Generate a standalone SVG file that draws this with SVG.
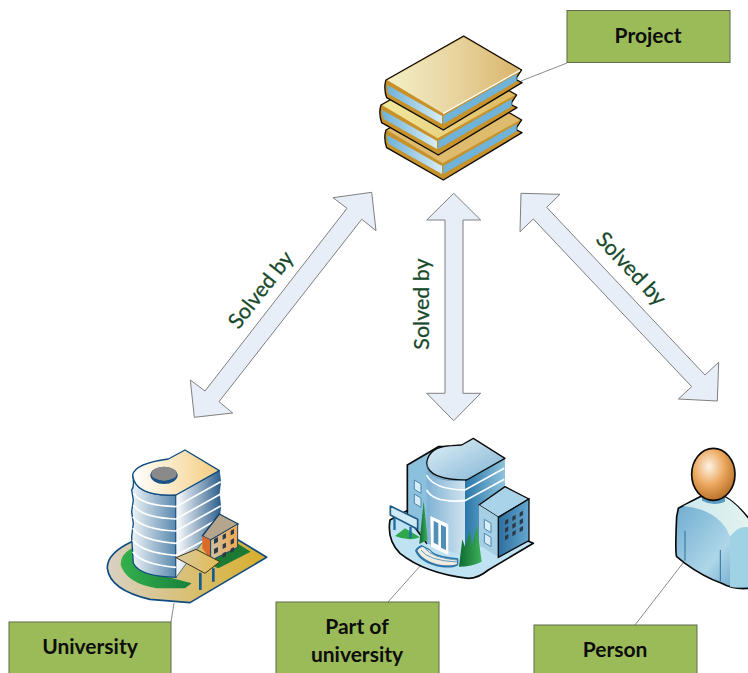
<svg xmlns="http://www.w3.org/2000/svg" width="748" height="673" viewBox="0 0 748 673">
<style>
.box{fill:#9bbb59;stroke:#5f6b4a;stroke-width:1}
.lbl{font-family:"Lato","Carlito","Open Sans",sans-serif;font-weight:700;font-size:21px;fill:#0d0d0d;text-anchor:middle}
.rel{font-family:"Lato","Carlito","Open Sans",sans-serif;font-size:21.5px;fill:#17492b;stroke:#17492b;stroke-width:.25;text-anchor:middle}
.arr{fill:#e8eef7;stroke:#7f7f7f;stroke-width:1}
.ln{fill:none;stroke:#8c8c8c;stroke-width:1}
.w{fill:none;stroke:#fff;stroke-width:5}
.k{stroke:#0a0a0a;stroke-width:4;stroke-linejoin:round}
.win{fill:#2c3a46}
</style>
<defs>
<linearGradient id="cov" x1="0" x2="1" y1="0" y2="0"><stop offset="0" stop-color="#f3efc8"/><stop offset=".5" stop-color="#e8d5a0"/><stop offset="1" stop-color="#d9b46c"/></linearGradient>
<linearGradient id="cov2" x1="0" x2="1" y1="0" y2="0"><stop offset="0" stop-color="#f2eaa0"/><stop offset="1" stop-color="#dfb860"/></linearGradient>
<linearGradient id="pg" x1="0" x2="1" y1="0" y2="0"><stop offset="0" stop-color="#6fb2d8"/><stop offset="1" stop-color="#d6ecf5"/></linearGradient>
<linearGradient id="tl" x1="0" x2="1" y1="0" y2="0"><stop offset="0" stop-color="#eef4f7"/><stop offset="1" stop-color="#5a88ae"/></linearGradient>
<linearGradient id="tr" x1="0" x2="1" y1="0" y2="0"><stop offset="0" stop-color="#ffffff"/><stop offset="1" stop-color="#2f608e"/></linearGradient>
<linearGradient id="tt" x1="0" x2="1" y1="0" y2="0"><stop offset="0" stop-color="#ffffff"/><stop offset="1" stop-color="#f5cd7e"/></linearGradient>
<linearGradient id="bs" x1="0" x2="1" y1="0" y2="0"><stop offset="0" stop-color="#d9d2c4"/><stop offset="1" stop-color="#d8ae28"/></linearGradient>
<linearGradient id="gr" x1="0" x2="1" y1="0" y2="0"><stop offset="0" stop-color="#35b04c"/><stop offset="1" stop-color="#17803c"/></linearGradient>
<linearGradient id="fr" x1="0" x2="1" y1="0" y2="0"><stop offset="0" stop-color="#cdbfa5"/><stop offset="1" stop-color="#f3a94e"/></linearGradient>
<linearGradient id="cn" x1="0" x2="1" y1="0" y2="0"><stop offset="0" stop-color="#d8c9a0"/><stop offset="1" stop-color="#e3bb50"/></linearGradient>
<linearGradient id="c1" x1="0" x2="1" y1="0" y2="0"><stop offset="0" stop-color="#7fb2d4"/><stop offset="1" stop-color="#cfe3ef"/></linearGradient>
<linearGradient id="c2" x1="0" x2="1" y1="0" y2="0"><stop offset="0" stop-color="#2a77a8"/><stop offset="1" stop-color="#8fc3de"/></linearGradient>
<linearGradient id="c3" x1="0" x2="1" y1="0" y2="1"><stop offset="0" stop-color="#e2f1f7"/><stop offset="1" stop-color="#7fb3d4"/></linearGradient>
<linearGradient id="c4" x1="0" x2="1" y1="0" y2="0"><stop offset="0" stop-color="#2c6f9f"/><stop offset="1" stop-color="#65a7cf"/></linearGradient>
<linearGradient id="tree" x1="0" x2="1" y1="0" y2="0"><stop offset="0" stop-color="#0c6a32"/><stop offset="1" stop-color="#3fb05a"/></linearGradient>
<radialGradient id="hd" cx=".4" cy=".35" r=".7"><stop offset="0" stop-color="#fdf3e6"/><stop offset=".5" stop-color="#eca961"/><stop offset="1" stop-color="#b56a22"/></radialGradient>
<linearGradient id="bd" x1="0" x2="1" y1="0" y2="1"><stop offset="0" stop-color="#6aa9cf"/><stop offset=".6" stop-color="#aed6e8"/><stop offset="1" stop-color="#5b9cc5"/></linearGradient>
<linearGradient id="sh" x1="0" x2="1" y1="0" y2="0"><stop offset="0" stop-color="#cfe8ee"/><stop offset="1" stop-color="#e2f2ef"/></linearGradient>
<g id="bk">
<path class="k" fill="#c8922a" d="M281,108L455,210L440,232L440,240L456,248L220,390L50,293Q40,265 48,240Z"/>
<path fill="url(#pg)" d="M52,255L216,348L216,372L56,282Q50,266 52,255Z"/>
<path fill="#6fb3d8" d="M220,348L440,222L440,244L220,372Z"/>
</g>
<path id="cv" d="M281,112L450,210L218,340L52,241Z"/>
</defs>

<g id="connectors">
<line class="ln" x1="521" y1="81" x2="567" y2="63"/>
<line class="ln" x1="174" y1="603" x2="171" y2="622"/>
<line class="ln" x1="421" y1="565" x2="388" y2="602"/>
<line class="ln" x1="683" y1="563" x2="635" y2="625"/>
<polygon class="arr" points="371.7,192.3 376,230.7 361.7,219.3 219,401.7 232.7,413 194.3,417.3 190.3,380 205,391 347,208.3 333,197.7"/>
<polygon class="arr" points="453.7,193.3 480.7,220 463,220 463,393.3 480.7,393.3 453.7,420.7 426.7,393.3 445,393.3 445,220 426.7,220"/>
<polygon class="arr" points="521,193.3 560,194.3 546.7,207.3 705,375 718.7,362.3 717.3,401 678.3,399 691.7,386.7 533.3,219 520,231.7"/>
<text class="rel" transform="translate(261,290) rotate(-52)" x="0" y="7">Solved by</text>
<text class="rel" transform="translate(421.500,304) rotate(-90)" x="0" y="7">Solved by</text>
<text class="rel" transform="translate(631,269) rotate(47)" x="0" y="7">Solved by</text>
</g>

<g id="project-icon" transform="translate(370,0) scale(.3333)">
<use href="#bk" transform="translate(0,150)"/>
<use href="#cv" transform="translate(0,150)" fill="#dfbb6e"/>
<use href="#bk" transform="translate(-15,75)"/>
<use href="#cv" transform="translate(-15,75)" fill="url(#cov2)"/>
<use href="#bk"/>
<use href="#cv" fill="url(#cov)"/>
<path fill="none" stroke="#fff" stroke-width="4" d="M450,211L219,341"/>
<path fill="none" stroke="#c8922a" stroke-width="5" d="M50,243L218,344"/>
</g>

<g id="project">
<rect class="box" x="567" y="10.5" width="163" height="52"/>
<text class="lbl" x="648" y="43">Project</text>
</g>

<g id="university-icon" transform="translate(90,440) scale(.3333)">
<path fill="url(#bs)" stroke="#0f4c81" stroke-width="5" stroke-linejoin="round" d="M125,305Q50,340 52,385Q60,450 180,478L300,488L530,352L445,300L300,300Z"/>
<path fill="#1c7a35" d="M445,312L482,335L385,385L350,370Z"/>
<path fill="url(#gr)" d="M125,325Q90,345 92,375Q110,430 200,445L285,445L305,430L230,410Q150,400 125,325Z"/>
<path fill="url(#tl)" stroke="#0f4c81" stroke-width="4" d="M128,105Q134,140 125,150L130,180L125,215L130,250L125,290L130,370Q150,410 258,412L258,165Q135,170 128,105Z"/>
<path fill="url(#tr)" stroke="#0f4c81" stroke-width="2" d="M258,165L388,92L392,125L388,160L392,200L388,240L258,412Z"/>
<path fill="url(#tt)" stroke="#0f4c81" stroke-width="4" stroke-linejoin="round" d="M128,105Q135,70 235,57L285,30L388,92L258,165Q135,170 128,105Z"/>
<path class="w" d="M130,160Q155,198 258,200L392,125"/>
<path class="w" d="M130,195Q155,233 258,237L392,162"/>
<path class="w" d="M128,230Q155,268 258,273L392,198"/>
<path class="w" d="M128,265Q155,303 258,310L388,235"/>
<path class="w" d="M128,300Q155,338 258,346L345,300"/>
<path class="w" d="M128,335Q155,373 258,382"/>
<ellipse cx="222" cy="106" rx="41" ry="26" fill="#1a5286"/>
<ellipse cx="222" cy="101" rx="38" ry="21" fill="#8a8a8a"/>
<path fill="#b5a58c" stroke="#123f66" stroke-width="4" stroke-linejoin="round" d="M337,288L388,222L445,252L362,300Z"/>
<path fill="#d96a2c" d="M337,288L362,300L362,358L337,325Z"/>
<path fill="url(#fr)" stroke="#123f66" stroke-width="3" d="M362,300L443,252L443,322L362,362Z"/>
<path class="win" d="M372,297l12,-6v15l-12,6zM398,285l10,-5v14l-10,5zM422,272l10,-5v14l-10,5zM372,327l12,-6v15l-12,6zM398,313l10,-5v14l-10,5zM422,300l10,-5v14l-10,5zM398,340l10,-5v14l-10,5zM422,326l10,-5v12l-10,5z"/>
<path fill="url(#cn)" stroke="#3a3322" stroke-width="3" stroke-linejoin="round" d="M258,353L318,328L390,365L345,400Z"/>
<path fill="none" stroke="#145a8c" stroke-width="8" d="M331,398V450M370,385V425"/>
</g>

<g id="university">
<rect class="box" x="9" y="622" width="162" height="60"/>
<text class="lbl" x="90" y="654">University</text>
</g>

<g id="part-icon" transform="translate(375,430) scale(.3333)">
<path fill="#bfe3f2" stroke="#0a0a0a" stroke-width="5" stroke-linejoin="round" d="M45,270Q35,330 75,370Q150,430 280,445Q310,445 340,420L475,340L380,300L100,240Z"/>
<path fill="#8cc1de" stroke="#0a0a0a" stroke-width="5" stroke-linejoin="round" d="M97,105L190,50L250,50L250,200L155,340L97,262Z"/>
<path fill="#d7ecf5" stroke="#4d86ae" stroke-width="3" d="M118,150l20,12v28l-20,-12zM118,192l20,12v28l-20,-12z"/>
<path fill="url(#c1)" d="M155,100L270,150V380L155,340Z"/>
<path fill="url(#c2)" d="M270,150L390,85V170L312,225V345L270,380Z"/>
<path fill="url(#c3)" stroke="#0a0a0a" stroke-width="4" stroke-linejoin="round" d="M155,100Q160,50 230,47L260,45L295,25L390,85L275,150Q160,150 155,100Z"/>
<path class="w" d="M155,135Q175,178 270,180L388,115"/>
<path class="w" d="M155,180Q175,220 270,212L388,148"/>
<path d="M155,100Q158,160 270,150" fill="none" stroke="#4d86ae" stroke-width="2"/>
<path fill="#2f77a8" d="M120,362Q125,350 140,345L165,358Q175,378 250,385V405Q240,415 200,412Q135,400 120,362Z"/>
<path fill="#f1ebe0" d="M127,362Q130,354 142,350L165,362Q175,382 246,390V402Q235,408 200,405Q145,395 127,362Z"/>
<path fill="none" stroke="#5d9cc4" stroke-width="3" d="M138,360Q160,392 246,396M150,355Q172,384 246,390"/>
<path fill="#fff" d="M166,258L220,283V375L168,350Z"/>
<path fill="#4f8fb8" d="M176,272L190,280V345L176,338ZM198,284L213,292V360L198,353Z"/>
<path fill="#a9d3e8" stroke="#0a0a0a" stroke-width="4" stroke-linejoin="round" d="M312,225L390,170L462,207L370,262Z"/>
<path fill="#a5cfe5" d="M312,225L370,262V382L312,345Z"/>
<path fill="url(#c4)" stroke="#0a0a0a" stroke-width="4" d="M370,262L462,207V332L370,382Z"/>
<path fill="#d7ecf5" stroke="#4d86ae" stroke-width="3" d="M328,268l20,12v28l-20,-12zM328,310l20,12v28l-20,-12z"/>
<path class="win" d="M390,272l10,-6v13l-10,6zM412,260l10,-6v13l-10,6zM434,248l10,-6v13l-10,6zM390,295l10,-6v13l-10,6zM412,283l10,-6v13l-10,6zM434,271l10,-6v13l-10,6zM390,318l10,-6v13l-10,6zM412,306l10,-6v13l-10,6zM434,294l10,-6v13l-10,6z"/>
<path fill="url(#tree)" d="M133,342L146,212L158,330Z"/>
<path fill="url(#tree)" d="M252,410L262,328L270,350L284,305L292,345L305,282L320,395Q290,410 252,410Z"/>
<path fill="#2da84a" d="M60,318L90,295L135,322Q100,335 60,318Z"/>
<path fill="#1c6fa3" d="M55,265h7v35h-7zM103,290h7v35h-7z"/>
<path fill="#cfe9f5" stroke="#1f5b87" stroke-width="5" stroke-linejoin="round" d="M46,228L128,268V298L46,255Z"/>
</g>

<g id="part">
<rect class="box" x="276" y="602" width="163" height="80"/>
<text class="lbl" x="357" y="634">Part of</text>
<text class="lbl" x="357" y="662">university</text>
</g>

<g id="person-icon" transform="translate(640,440) scale(.3333)">
<path fill="url(#bd)" stroke="#0a0a0a" stroke-width="5" stroke-linejoin="round" d="M115,205Q150,185 180,170L255,170Q290,190 330,240L330,445Q280,450 245,430Q190,410 135,370L110,350Q105,340 110,230Z"/>
<path fill="url(#sh)" d="M130,198Q160,185 185,172L255,172Q290,190 326,240L326,265L270,290Q240,210 130,198Z"/>
<path fill="#9fd2e5" d="M270,290Q295,255 326,262V440Q295,445 270,440Z"/>
<path fill="#5b9cc5" d="M186,170H255V185Q220,200 186,182Z"/>
<path fill="none" stroke="#2f6f9e" stroke-width="3" d="M135,272V362M241,330V425"/>
<ellipse cx="220" cy="103" rx="65" ry="78" fill="url(#hd)" stroke="#0a0a0a" stroke-width="5"/>
</g>

<g id="person">
<rect class="box" x="534" y="625" width="163" height="60"/>
<text class="lbl" x="615" y="657">Person</text>
</g>
</svg>
